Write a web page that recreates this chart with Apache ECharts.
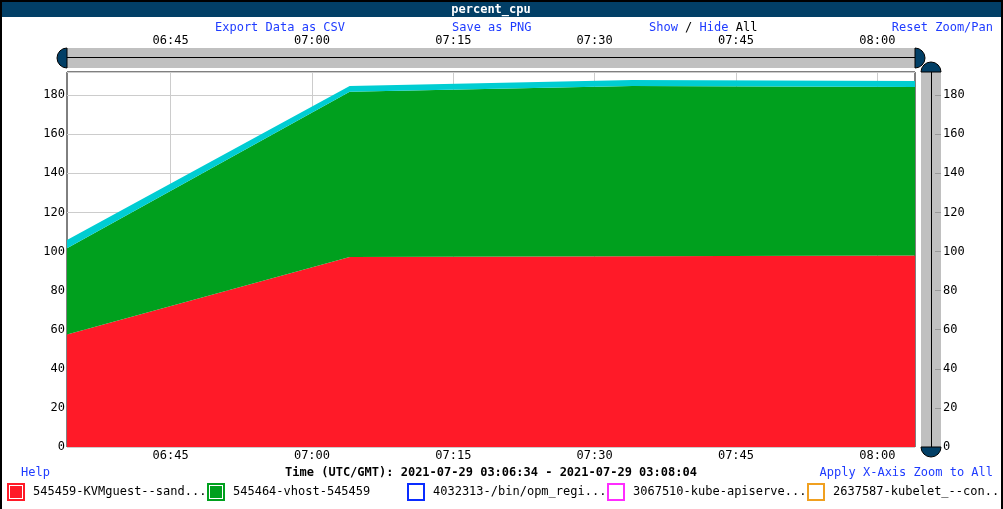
<!DOCTYPE html>
<html>
<head>
<meta charset="utf-8">
<script src="https://cdn.jsdelivr.net/npm/echarts@6/dist/echarts.min.js"></script>
<style>
html,body{margin:0;padding:0;background:#fff;}
#chart{width:1003px;height:509px;}
</style>
</head>
<body>
<div id="chart"></div>
<script>
// ---- data ----
const times = ['03:06:34', '03:07:04', '03:07:34', '03:08:04'];
const kvmguest = [57.6, 97.2, 97.6, 98.0];
const vhost = [44.0, 84.5, 87.0, 86.1];
const otherTop = [4.3, 2.9, 3.1, 3.1];
const xTickTimes = ['03:06:45', '03:07:00', '03:07:15', '03:07:30', '03:07:45', '03:08:00'];
const xRange = ['03:06:34', '03:08:04'];
const yMax = 191.8;
const legendNames = ['545459-KVMguest--sand...', '545464-vhost-545459', '4032313-/bin/opm_regi...', '3067510-kube-apiserve...', '2637587-kubelet_--con...'];
const otherName = 'other';
const axisTitle = 'Time (UTC/GMT): 2021-07-29 03:06:34 - 2021-07-29 03:08:04';
const chartTitle = 'percent_cpu';

const MONO = '"DejaVu Sans Mono", monospace';
const LINK = '#1f3cff';
const colors = ['#ff1a28', '#00a01e', '#0a2cff', '#ff2cff', '#f0a020'];
const cyan = '#00cdd2';

function toSec(t) { const p = t.split(':').map(Number); return p[0] * 3600 + p[1] * 60 + p[2]; }
function fmt(v) {
  const m = Math.floor((v % 3600) / 60), s = Math.round(v % 60);
  return String(m).padStart(2, '0') + ':' + String(s).padStart(2, '0');
}
const xs = times.map(toSec);
const xTicks = xTickTimes.map(toSec);
const xMin = toSec(xRange[0]), xMax = toSec(xRange[1]);

const ICON_FILLED = 'path://M0,0H18V18H0Z M2,2V16H16V2Z M3,3H15V15H3Z';
const ICON_EMPTY = 'path://M0,0H18V18H0Z M2,2V16H16V2Z';

// value column first so the stack acts on the value (y) dimension
const toData = vals => vals ? xs.map((x, j) => [vals[j], x]) : [];
const seriesVals = [kvmguest, vhost, null, null, null];
const series = legendNames.map((n, i) => ({
  name: n, type: 'line', stack: seriesVals[i] ? 'cpu' : undefined, symbol: 'none', showSymbol: false,
  color: colors[i], encode: { x: 1, y: 0 },
  lineStyle: { width: 0 },
  areaStyle: { color: colors[i], opacity: 1 },
  data: toData(seriesVals[i])
}));
series.push({
  name: otherName, type: 'line', stack: 'cpu', symbol: 'none', showSymbol: false,
  color: cyan, encode: { x: 1, y: 0 }, lineStyle: { width: 0 }, areaStyle: { color: cyan, opacity: 1 },
  data: toData(otherTop)
});

const G = { left: 67, top: 72, right: 915, bottom: 447 };
const handle = { fill: '#023f66', stroke: '#000', lineWidth: 1 };
const legendTextStyle = { fontFamily: MONO, fontSize: 12, color: '#000', padding: [4, 0, 0, 3] };

const chart = echarts.init(document.getElementById('chart'), null, { renderer: 'canvas' });
chart.setOption({
  animation: false,
  backgroundColor: '#fff',
  textStyle: { fontFamily: MONO },
  grid: { left: G.left, top: G.top, right: 1003 - G.right, bottom: 509 - G.bottom,
          show: true, borderColor: '#000', borderWidth: 1, backgroundColor: '#fff' },
  xAxis: [{
    type: 'value', min: xMin, max: xMax, position: 'bottom',
    name: axisTitle, nameLocation: 'middle', nameGap: 20,
    nameTextStyle: { fontFamily: MONO, fontSize: 12, fontWeight: 'bold', color: '#000' },
    axisLine: { show: false }, axisTick: { show: false, customValues: xTicks },
    axisLabel: { customValues: xTicks, formatter: fmt, fontFamily: MONO, fontSize: 12, color: '#000', margin: 3 },
    splitLine: { show: true, lineStyle: { color: '#cccccc', width: 1 } }
  }, {
    type: 'value', min: xMin, max: xMax, position: 'top', offset: 4,
    axisLine: { show: false },
    axisTick: { show: true, inside: false, length: 20, customValues: xTicks, lineStyle: { color: '#999' } },
    axisLabel: { customValues: xTicks, formatter: fmt, fontFamily: MONO, fontSize: 12, color: '#000', margin: 21 },
    splitLine: { show: false }
  }],
  yAxis: [{
    type: 'value', min: 0, max: yMax, interval: 20, position: 'left',
    axisLine: { show: false }, axisTick: { show: false },
    axisLabel: { showMaxLabel: false, fontFamily: MONO, fontSize: 12, color: '#000', margin: 2 },
    splitLine: { show: true, lineStyle: { color: '#cccccc', width: 1 } }
  }, {
    type: 'value', min: 0, max: yMax, interval: 20, position: 'right', offset: 26,
    axisLine: { show: false },
    axisTick: { show: true, inside: true, length: 6, lineStyle: { color: '#999' } },
    axisLabel: { showMaxLabel: false, fontFamily: MONO, fontSize: 12, color: '#000', margin: 2 },
    splitLine: { show: false }
  }],
  legend: legendNames.map((n, i) => ({
    left: 7 + 200 * i, top: 483, padding: 0, itemWidth: 18, itemHeight: 18, itemGap: 0,
    selectedMode: false,
    data: [{ name: n, icon: i < 2 ? ICON_FILLED : ICON_EMPTY }],
    textStyle: legendTextStyle
  })),
  series: series,
  graphic: [
    // frame and title bar
    { type: 'rect', z: -5, shape: { x: 0, y: 2, width: 1003, height: 15 }, style: { fill: '#023f66' } },
    { type: 'rect', z: 10, shape: { x: 1, y: 1, width: 1001, height: 530 }, style: { fill: null, stroke: '#000', lineWidth: 2 } },
    { type: 'text', z: 11, style: { text: chartTitle, x: 491, y: 10, textAlign: 'center', textVerticalAlign: 'middle',
      font: 'bold 12px ' + MONO, fill: '#fff' } },
    // links
    { type: 'text', style: { text: 'Export Data as CSV', x: 215, y: 28, textVerticalAlign: 'middle', font: '12px ' + MONO, fill: LINK } },
    { type: 'text', style: { text: 'Save as PNG', x: 452, y: 28, textVerticalAlign: 'middle', font: '12px ' + MONO, fill: LINK } },
    { type: 'text', style: { text: '{a|Show} / {a|Hide} All', x: 649, y: 28, textVerticalAlign: 'middle', font: '12px ' + MONO, fill: '#000',
      rich: { a: { fill: LINK, font: '12px ' + MONO } } } },
    { type: 'text', style: { text: 'Reset Zoom/Pan', x: 993, y: 28, textAlign: 'right', textVerticalAlign: 'middle', font: '12px ' + MONO, fill: LINK } },
    { type: 'text', style: { text: 'Help', x: 21, y: 473, textVerticalAlign: 'middle', font: '12px ' + MONO, fill: LINK } },
    { type: 'text', style: { text: 'Apply X-Axis Zoom to All', x: 993, y: 473, textAlign: 'right', textVerticalAlign: 'middle', font: '12px ' + MONO, fill: LINK } },
    // top (x) slider
    { type: 'rect', z: -1, shape: { x: G.left, y: 48, width: G.right - G.left, height: 20 }, style: { fill: '#c0c0c0' } },
    { type: 'line', z: 2, shape: { x1: G.left, y1: 57.5, x2: G.right, y2: 57.5 }, style: { stroke: '#000', lineWidth: 1 } },
    { type: 'sector', z: 3, shape: { cx: G.left, cy: 58, r: 10, startAngle: Math.PI / 2, endAngle: Math.PI * 1.5 }, style: handle },
    { type: 'sector', z: 3, shape: { cx: G.right, cy: 58, r: 10, startAngle: -Math.PI / 2, endAngle: Math.PI / 2 }, style: handle },
    // right (y) slider
    { type: 'rect', z: -1, shape: { x: 921, y: G.top, width: 20, height: G.bottom - G.top }, style: { fill: '#c0c0c0' } },
    { type: 'line', z: 2, shape: { x1: 931.5, y1: G.top, x2: 931.5, y2: G.bottom }, style: { stroke: '#000', lineWidth: 1 } },
    { type: 'sector', z: 4, shape: { cx: 931, cy: G.top, r: 10, startAngle: Math.PI, endAngle: Math.PI * 2 }, style: handle },
    { type: 'sector', z: 4, shape: { cx: 931, cy: G.bottom, r: 10, startAngle: 0, endAngle: Math.PI }, style: handle }
  ]
});
</script>
</body>
</html>
